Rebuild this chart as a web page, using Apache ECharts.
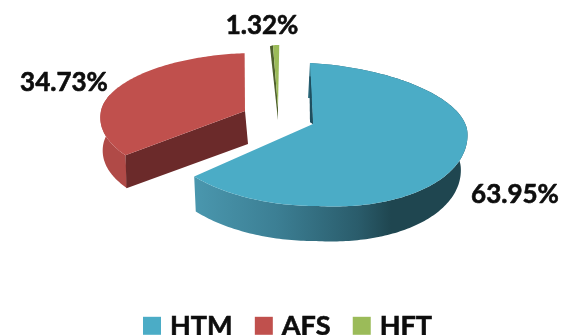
<!DOCTYPE html>
<html><head><meta charset="utf-8">
<style>html,body{margin:0;padding:0;background:#fff}#c{width:564px;height:335px}</style>
<script src="https://cdn.jsdelivr.net/npm/echarts@6/dist/echarts.min.js"></script>
</head><body><div id="c"></div>
<script>
const categories = ['HTM', 'AFS', 'HFT'];
const shares = [63.95, 34.73, 1.32];
const colors = ['#4BACC6', '#C0504D', '#9BBB59'];

// perspective model of each exploded slice (layout only; angles come from shares)
const looks = [
  { cx: 313, cy: 124, rxL: 158, rxR: 154, ryT: 61, ryB: 82, shear: 0.05, drop: 9,
    depth: [-2, 35], xScale: 0.97, n: 200, sideUpTo: 1,
    side: { type: 'linear', x: 0, y: 0, x2: 1, y2: 0, colorStops: [
      { offset: 0, color: '#4a97ae' }, { offset: 0.3, color: '#3c7f94' },
      { offset: 0.6, color: '#2a5c6b' }, { offset: 0.72, color: '#1f4650' }, { offset: 1, color: '#1f4650' }] },
    label: [515, 195],
    face: { edge: 0, reach: 0.78, apexOff: [-3, -2], rimOff: [-1, 0], color: '#1f4f5f' } },
  { cx: 245, cy: 111, rxL: 144, rxR: 144, ryT: 58, ryB: 69, shear: -0.2, drop: 0,
    depth: [-2, 33], xScale: 0.97, n: 120, sideUpTo: 0.45, side: '#b04a47',
    label: [64, 83],
    face: { edge: 0, reach: 1, apexOff: [3, 33], rimOff: [1, 33], color: '#6B2A2A' } },
  { cx: 278, cy: 108, rxL: 76, rxR: 76, ryT: 63, ryB: 63, shear: -0.02, drop: 0,
    depth: [0, 0], xScale: 1, n: 6, sideUpTo: 0, side: '#4e5f2c',
    label: [262, 26],
    face: { edge: 0, reach: 1, apexOff: [0, 12], rimOff: [-3, 1], color: '#4f602d' } }
];

const total = shares.reduce((a, b) => a + b, 0);
let acc = 0;
const spans = shares.map(v => { const s = acc / total * 2 * Math.PI; acc += v; return [s, acc / total * 2 * Math.PI]; });

function rim(l, t) {
  const s = Math.sin(t), c = Math.cos(t);
  const dy = -(c > 0 ? l.ryT : l.ryB) * c + Math.max(0, s) * l.drop;
  return [l.cx + (s < 0 ? l.rxL : l.rxR) * s + l.shear * dy, l.cy + dy];
}

function renderSlice(idx) {
  return function (params, api) {
    const l = looks[idx], sp = spans[idx];
    const pts = [];
    for (let i = 0; i <= l.n; i++) pts.push(rim(l, sp[0] + (sp[1] - sp[0]) * i / l.n));
    const apex = [l.cx, l.cy];
    const children = [];
    // extruded outer wall
    if (l.sideUpTo > 0) {
      const wall = pts.slice(0, Math.round(l.n * l.sideUpTo) + 1);
      const low = wall.map(p => [l.cx + (p[0] - l.cx) * l.xScale + l.depth[0], p[1] + l.depth[1]]);
      children.push({ type: 'polygon', shape: { points: wall.concat(low.reverse()) }, style: { fill: l.side } });
    }
    const f = l.face;
    const edgeRim = pts[f.edge];
    const rp = [apex[0] + (edgeRim[0] - apex[0]) * f.reach, apex[1] + (edgeRim[1] - apex[1]) * f.reach];
    const facePoly = { type: 'polygon', shape: { points: [
      apex, rp, [rp[0] + f.rimOff[0], rp[1] + f.rimOff[1]], [apex[0] + f.apexOff[0], apex[1] + f.apexOff[1]]
    ] }, style: { fill: f.color } };
    children.push(facePoly);
    // top surface
    children.push({ type: 'polygon', shape: { points: [apex].concat(pts) }, style: { fill: colors[idx] } });
    if (idx === 0) children.push(facePoly);
    children.push({ type: 'text', x: l.label[0], y: l.label[1], style: {
      text: api.value(0).toFixed(2) + '%', fill: '#0d0d0d', font: 'bold 26px Lato',
      stroke: '#0d0d0d', lineWidth: 0.6, align: 'center', verticalAlign: 'middle' } });
    return { type: 'group', children };
  };
}

const chart = echarts.init(document.getElementById('c'), null, { renderer: 'canvas' });
chart.setOption({
  animation: false,
  backgroundColor: '#fff',
  legend: {
    left: 138, top: 307, icon: 'rect', itemWidth: 18, itemHeight: 18, itemGap: 22,
    data: categories, selectedMode: false,
    textStyle: { fontFamily: 'Lato', fontWeight: 'bold', fontSize: 27, color: '#0d0d0d',
      textBorderColor: '#0d0d0d', textBorderWidth: 0.6, padding: [0, 0, 0, 4] }
  },
  series: categories.map((name, i) => ({
    type: 'custom', name, coordinateSystem: 'none', silent: true,
    itemStyle: { color: colors[i] },
    renderItem: renderSlice(i),
    data: [[shares[i]]]
  }))
});
</script></body></html>
